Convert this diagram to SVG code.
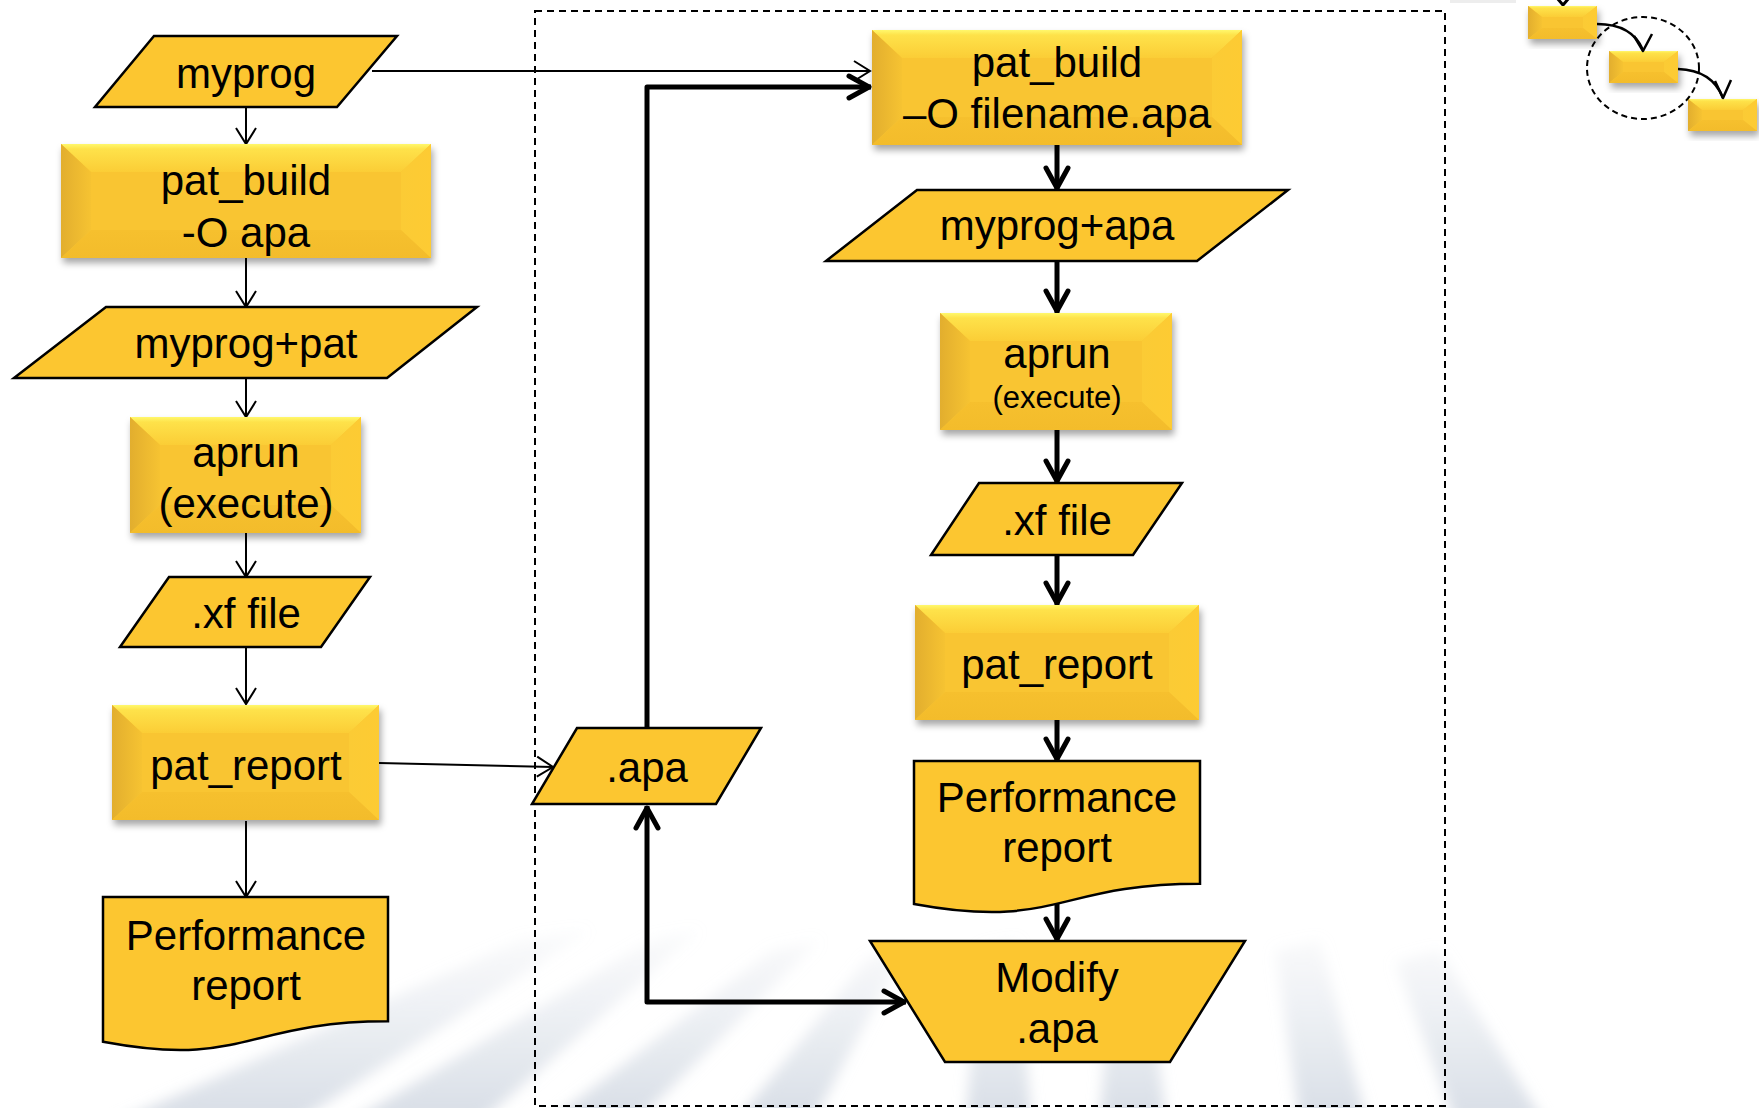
<svg xmlns="http://www.w3.org/2000/svg" width="1759" height="1108" viewBox="0 0 1759 1108">
  <defs>
    <style>
      .t { font-family: "Liberation Sans", Arial, sans-serif; font-size: 42px; text-anchor: middle; fill: #000; }
      .ts { font-size: 31px; }
      .flat { fill: #FCC630; stroke: #000; stroke-width: 2.5; stroke-linejoin: miter; }
      .base { fill: #F9C532; filter: url(#shadow); }
      .bt { fill: url(#gTop); }
      .bl { fill: url(#gLeft); }
      .br { fill: url(#gRight); }
      .bb { fill: url(#gBottom); }
      .thin { fill: none; stroke: #000; stroke-width: 2; marker-end: url(#headThin); }
      .thick { fill: none; stroke: #000; stroke-width: 5; stroke-linejoin: round; marker-end: url(#headThick); }
      .ray { fill: url(#gRay); }
    </style>
    <linearGradient id="gTop" x1="0" y1="0" x2="0" y2="1">
      <stop offset="0" stop-color="#FFF86C"/>
      <stop offset="0.18" stop-color="#FEE24A"/>
      <stop offset="1" stop-color="#FBCD36"/>
    </linearGradient>
    <linearGradient id="gLeft" x1="0" y1="0" x2="1" y2="0">
      <stop offset="0" stop-color="#E2AE2E"/>
      <stop offset="1" stop-color="#F6C332"/>
    </linearGradient>
    <linearGradient id="gRight" x1="0" y1="0" x2="1" y2="0">
      <stop offset="0" stop-color="#FBCB35"/>
      <stop offset="1" stop-color="#FDCB33"/>
    </linearGradient>
    <linearGradient id="gBottom" x1="0" y1="0" x2="0" y2="1">
      <stop offset="0" stop-color="#F6C02E"/>
      <stop offset="1" stop-color="#F3BC2B"/>
    </linearGradient>
    <linearGradient id="gRay" gradientUnits="userSpaceOnUse" x1="0" y1="900" x2="0" y2="1108">
      <stop offset="0" stop-color="#D6DCE5" stop-opacity="0"/>
      <stop offset="0.45" stop-color="#D6DCE5" stop-opacity="0.35"/>
      <stop offset="1" stop-color="#D0D7E1" stop-opacity="0.8"/>
    </linearGradient>
    <filter id="soft" x="-20%" y="-20%" width="140%" height="140%">
      <feGaussianBlur stdDeviation="7"/>
    </filter>
    <filter id="shadow" x="-10%" y="-10%" width="125%" height="140%">
      <feDropShadow dx="2" dy="5" stdDeviation="3.5" flood-color="#000" flood-opacity="0.35"/>
    </filter>
    <marker id="headThin" markerUnits="userSpaceOnUse" viewBox="-20 -12 24 24" markerWidth="24" markerHeight="24" refX="0" refY="0" orient="auto">
      <path d="M-16,-10 L0,0 L-16,10" fill="none" stroke="#000" stroke-width="2"/>
    </marker>
    <marker id="headThick" markerUnits="userSpaceOnUse" viewBox="-26 -16 32 32" markerWidth="32" markerHeight="32" refX="2" refY="0" orient="auto-start-reverse">
      <path d="M-20,-11 L0,0 L-20,11" fill="none" stroke="#000" stroke-width="5" stroke-linecap="round" stroke-linejoin="round"/>
    </marker>
  </defs>

  <rect x="0" y="0" width="1759" height="1108" fill="#FFFFFF"/>

  <!-- faint perspective rays along the bottom -->
  <g id="background-rays" filter="url(#soft)">
    <polygon class="ray" points="100,1130 285,1130 590,930 520,940"/>
    <polygon class="ray" points="337,1130 471,1130 700,930 650,940"/>
    <polygon class="ray" points="538,1130 628,1130 820,940 772,950"/>
    <polygon class="ray" points="729,1130 808,1130 905,950 868,958"/>
    <polygon class="ray" points="965,1130 1032,1130 1018,940 980,948"/>
    <polygon class="ray" points="1099,1130 1167,1130 1146,950 1112,958"/>
    <polygon class="ray" points="1301,1130 1369,1130 1320,940 1275,950"/>
    <polygon class="ray" points="1458,1130 1548,1130 1440,950 1395,962"/>
  </g>

  <!-- dashed frame around the tracing loop -->
  <rect id="loop-frame" x="535" y="11" width="910" height="1095" fill="none" stroke="#000" stroke-width="2" stroke-dasharray="7 5"/>

  <!-- connectors -->
  <g id="connectors">
    <line class="thin" x1="246" y1="107" x2="246" y2="144"/>
    <line class="thin" x1="246" y1="258" x2="246" y2="307"/>
    <line class="thin" x1="246" y1="378" x2="246" y2="417"/>
    <line class="thin" x1="246" y1="533" x2="246" y2="577"/>
    <line class="thin" x1="246" y1="647" x2="246" y2="704"/>
    <line class="thin" x1="246" y1="821" x2="246" y2="897"/>
    <line class="thin" x1="372" y1="71" x2="870" y2="71"/>
    <line class="thin" x1="379" y1="763" x2="553" y2="767"/>

    <line class="thick" x1="1057" y1="145" x2="1057" y2="190"/>
    <line class="thick" x1="1057" y1="261" x2="1057" y2="313"/>
    <line class="thick" x1="1057" y1="430" x2="1057" y2="483"/>
    <line class="thick" x1="1057" y1="555" x2="1057" y2="605"/>
    <line class="thick" x1="1057" y1="720" x2="1057" y2="761"/>
    <line class="thick" x1="1057" y1="904" x2="1057" y2="941"/>
    <path class="thick" d="M647,728 V87 H871"/>
    <path class="thick" d="M647,806 V1002 H906" marker-start="url(#headThick)"/>
  </g>

  <!-- left column: single pass -->
  <g id="myprog">
    <polygon class="flat" points="154,36 397,36 337,107 95,107"/>
    <text class="t" x="246" y="88">myprog</text>
  </g>

  <g id="pat-build-left">
    <rect class="base" x="61" y="144" width="370" height="114"/>
    <polygon class="bt" points="61,144 431,144 401,172 91,172"/>
    <polygon class="bl" points="61,144 91,172 91,230 61,258"/>
    <polygon class="br" points="431,144 431,258 401,230 401,172"/>
    <polygon class="bb" points="61,258 91,230 401,230 431,258"/>
    <text class="t" x="246" y="195">pat_build</text>
    <text class="t" x="246" y="247">-O apa</text>
  </g>

  <g id="myprog-pat">
    <polygon class="flat" points="106,307 477,307 387,378 14,378"/>
    <text class="t" x="246" y="358">myprog+pat</text>
  </g>

  <g id="aprun-left">
    <rect class="base" x="130" y="417" width="231" height="116"/>
    <polygon class="bt" points="130,417 361,417 331,445 160,445"/>
    <polygon class="bl" points="130,417 160,445 160,505 130,533"/>
    <polygon class="br" points="361,417 361,533 331,505 331,445"/>
    <polygon class="bb" points="130,533 160,505 331,505 361,533"/>
    <text class="t" x="246" y="467">aprun</text>
    <text class="t" x="246" y="518">(execute)</text>
  </g>

  <g id="xf-left">
    <polygon class="flat" points="169,577 370,577 321,647 120,647"/>
    <text class="t" x="246" y="628">.xf file</text>
  </g>

  <g id="pat-report-left">
    <rect class="base" x="112" y="705" width="267" height="115"/>
    <polygon class="bt" points="112,705 379,705 349,733 142,733"/>
    <polygon class="bl" points="112,705 142,733 142,792 112,820"/>
    <polygon class="br" points="379,705 379,820 349,792 349,733"/>
    <polygon class="bb" points="112,820 142,792 349,792 379,820"/>
    <text class="t" x="246" y="780">pat_report</text>
  </g>

  <g id="perf-report-left">
    <path class="flat" d="M103,897 H388 V1021.3 C245.5,1021.3 245.5,1068.6 103,1041.8 Z"/>
    <text class="t" x="246" y="950">Performance</text>
    <text class="t" x="246" y="1000">report</text>
  </g>

  <!-- right column: tracing loop -->
  <g id="apa-file">
    <polygon class="flat" points="577,728 761,728 716,804 532,804"/>
    <text class="t" x="647" y="782">.apa</text>
  </g>

  <g id="pat-build-right">
    <rect class="base" x="872" y="30" width="370" height="115"/>
    <polygon class="bt" points="872,30 1242,30 1212,58 902,58"/>
    <polygon class="bl" points="872,30 902,58 902,117 872,145"/>
    <polygon class="br" points="1242,30 1242,145 1212,117 1212,58"/>
    <polygon class="bb" points="872,145 902,117 1212,117 1242,145"/>
    <text class="t" x="1057" y="77">pat_build</text>
    <text class="t" x="1057" y="128">–O filename.apa</text>
  </g>

  <g id="myprog-apa">
    <polygon class="flat" points="917,190 1288,190 1197,261 826,261"/>
    <text class="t" x="1057" y="240">myprog+apa</text>
  </g>

  <g id="aprun-right">
    <rect class="base" x="940" y="313" width="232" height="117"/>
    <polygon class="bt" points="940,313 1172,313 1142,341 970,341"/>
    <polygon class="bl" points="940,313 970,341 970,402 940,430"/>
    <polygon class="br" points="1172,313 1172,430 1142,402 1142,341"/>
    <polygon class="bb" points="940,430 970,402 1142,402 1172,430"/>
    <text class="t" x="1057" y="368">aprun</text>
    <text class="t ts" x="1057" y="408">(execute)</text>
  </g>

  <g id="xf-right">
    <polygon class="flat" points="979,483 1182,483 1133,555 931,555"/>
    <text class="t" x="1057" y="535">.xf file</text>
  </g>

  <g id="pat-report-right">
    <rect class="base" x="915" y="605" width="284" height="115"/>
    <polygon class="bt" points="915,605 1199,605 1169,633 945,633"/>
    <polygon class="bl" points="915,605 945,633 945,692 915,720"/>
    <polygon class="br" points="1199,605 1199,720 1169,692 1169,633"/>
    <polygon class="bb" points="915,720 945,692 1169,692 1199,720"/>
    <text class="t" x="1057" y="679">pat_report</text>
  </g>

  <g id="perf-report-right">
    <path class="flat" d="M914,761 H1200 V883.7 C1057,883.7 1057,930.4 914,903.9 Z"/>
    <text class="t" x="1057" y="812">Performance</text>
    <text class="t" x="1057" y="862">report</text>
  </g>

  <g id="modify-apa">
    <polygon class="flat" points="870,941 1245,941 1170,1062 945,1062"/>
    <text class="t" x="1057" y="992">Modify</text>
    <text class="t" x="1057" y="1043">.apa</text>
  </g>

  <!-- corner icon: stepping boxes with the middle step circled -->
  <g id="step-icon">
    <rect x="1450" y="0" width="66" height="3" fill="#EDEDED"/>
    <path d="M1557,-2 L1563,5 L1569,-2" fill="none" stroke="#000" stroke-width="3" stroke-linejoin="round"/>
    <g id="step-1">
      <rect class="base" x="1528" y="6" width="69" height="33"/>
      <polygon class="bt" points="1528,6 1597,6 1583,17 1542,17"/>
      <polygon class="bl" points="1528,6 1542,17 1542,28 1528,39"/>
      <polygon class="br" points="1597,6 1597,39 1583,28 1583,17"/>
      <polygon class="bb" points="1528,39 1542,28 1583,28 1597,39"/>
    </g>
    <g id="step-2">
      <rect class="base" x="1609" y="51" width="69" height="32"/>
      <polygon class="bt" points="1609,51 1678,51 1664,62 1623,62"/>
      <polygon class="bl" points="1609,51 1623,62 1623,72 1609,83"/>
      <polygon class="br" points="1678,51 1678,83 1664,72 1664,62"/>
      <polygon class="bb" points="1609,83 1623,72 1664,72 1678,83"/>
    </g>
    <g id="step-3">
      <rect class="base" x="1688" y="99" width="69" height="32"/>
      <polygon class="bt" points="1688,99 1757,99 1743,110 1702,110"/>
      <polygon class="bl" points="1688,99 1702,110 1702,120 1688,131"/>
      <polygon class="br" points="1757,99 1757,131 1743,120 1743,110"/>
      <polygon class="bb" points="1688,131 1702,120 1743,120 1757,131"/>
    </g>
    <ellipse cx="1643" cy="68" rx="56" ry="51" fill="none" stroke="#000" stroke-width="2" stroke-dasharray="6 4"/>
    <path d="M1597,24 Q1632,24 1643,50" fill="none" stroke="#000" stroke-width="2.5"/>
    <path d="M1634,36 L1643,51 L1652,34" fill="none" stroke="#000" stroke-width="2.5" stroke-linejoin="round"/>
    <path d="M1678,69 Q1712,70 1723,98" fill="none" stroke="#000" stroke-width="2.5"/>
    <path d="M1715,81 L1723,98 L1731,80" fill="none" stroke="#000" stroke-width="2.5" stroke-linejoin="round"/>
  </g>
</svg>
